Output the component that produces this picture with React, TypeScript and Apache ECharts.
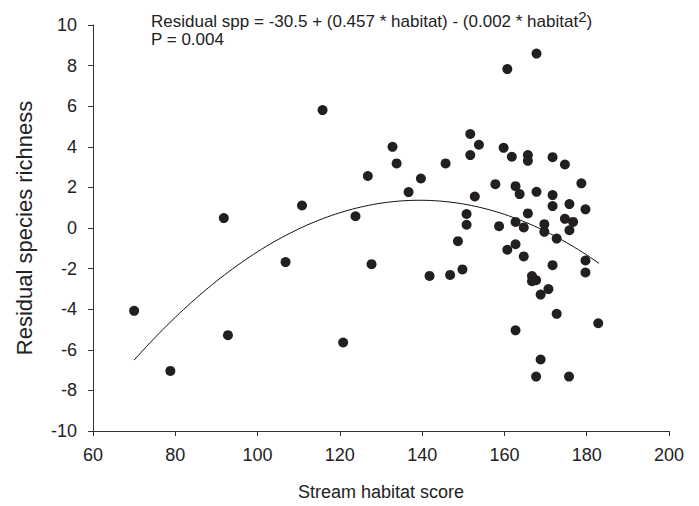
import React, { useEffect, useRef } from "react";
import * as echarts from "echarts";

const habitatScores = [
  70, 78.8, 91.8, 92.8, 106.8, 110.8, 115.8, 120.8, 123.8, 126.8, 127.7, 132.8, 133.8, 136.7, 139.7, 141.8, 145.7, 146.8, 148.7,
  149.8, 150.8, 150.8, 151.7, 151.7, 152.8, 153.8, 157.8, 158.7, 159.8, 160.7, 160.7, 161.8, 162.7, 162.7, 162.7, 162.7,
  163.7, 164.7, 164.7, 165.7, 165.7, 165.7, 166.7, 166.7, 167.7, 167.8, 167.8, 167.7, 168.8, 168.8, 169.7, 169.7, 170.7,
  171.7, 171.7, 171.7, 171.7, 172.7, 172.7, 174.7, 174.7, 175.8, 175.8, 175.7, 176.7, 178.7, 179.7, 179.7, 179.7, 182.8,
];
const residualRichness = [
  -4.08, -7.04, 0.49, -5.28, -1.68, 1.11, 5.81, -5.64, 0.58, 2.56, -1.78, 4.0, 3.18, 1.77, 2.44, -2.36, 3.18, -2.31, -0.65,
  -2.04, 0.69, 0.16, 4.63, 3.59, 1.55, 4.1, 2.16, 0.09, 3.95, 7.83, -1.07, 3.51, 2.06, 0.3, -0.8, -5.04,
  1.67, 0.03, -1.4, 3.59, 3.31, 0.72, -2.37, -2.62, -2.57, 8.59, 1.78, -7.32, -3.28, -6.48, 0.19, -0.19, -3.01,
  3.49, 1.62, 1.08, -1.83, -0.52, -4.23, 3.13, 0.45, 1.18, -0.11, -7.32, 0.3, 2.2, 0.92, -1.6, -2.19, -4.69,
];

// fitted quadratic (as drawn)
const fitCoef = [-30.4, 0.4558, -0.001635];
const fitRange = [70, 183];

const xTicks = { min: 60, max: 200, interval: 20 };
const yTicks = { min: -10, max: 10, interval: 2 };

export default function App() {
  const ref = useRef<HTMLDivElement>(null);
  useEffect(() => {
    if (!ref.current) return;
    const chart = echarts.init(ref.current, null, { renderer: "svg" });
    const points = habitatScores.map((x, i) => [x, residualRichness[i]]);
    const fit: number[][] = [];
    for (let x = fitRange[0]; x <= fitRange[1] + 1e-9; x += 1) {
      fit.push([x, fitCoef[0] + fitCoef[1] * x + fitCoef[2] * x * x]);
    }
    const font = "'Liberation Sans', Arial, sans-serif";
    chart.setOption({
      animation: false,
      backgroundColor: "#fff",
      textStyle: { fontFamily: font },
      grid: { left: 93, right: 30, top: 25, bottom: 75 },
      xAxis: {
        type: "value",
        ...xTicks,
        name: "Stream habitat score",
        nameLocation: "middle",
        nameGap: 52,
        nameTextStyle: { fontSize: 18, color: "#222", fontFamily: font },
        axisLine: { show: true, onZero: false, lineStyle: { color: "#333", width: 1 } },
        axisTick: { show: true, inside: false, length: 5, lineStyle: { color: "#333" } },
        axisLabel: { fontSize: 18, color: "#222", margin: 15, fontFamily: font },
        splitLine: { show: false },
      },
      yAxis: {
        type: "value",
        ...yTicks,
        name: "Residual species richness",
        nameLocation: "middle",
        nameGap: 58,
        nameTextStyle: { fontSize: 22, color: "#222", fontFamily: font },
        axisLine: { show: true, onZero: false, lineStyle: { color: "#333", width: 1 } },
        axisTick: { show: true, inside: false, length: 5, lineStyle: { color: "#333" } },
        axisLabel: { fontSize: 18, color: "#222", margin: 16, fontFamily: font },
        splitLine: { show: false },
      },
      graphic: [
        {
          type: "text",
          left: 151,
          top: 9,
          style: {
            text: "{a|Residual spp = -30.5 + (0.457 * habitat) - (0.002 * habitat}{s|2}{a|)}",
            rich: {
              a: { fontSize: 17, lineHeight: 17, fill: "#222", fontFamily: font, verticalAlign: "bottom" },
              s: { fontSize: 15, lineHeight: 15, fill: "#222", fontFamily: font, padding: [0, 0, 6, 0], verticalAlign: "bottom" },
            },
          },
        },
        {
          type: "text",
          left: 151,
          top: 31,
          style: { text: "P = 0.004", fontSize: 17, lineHeight: 17, fill: "#222", fontFamily: font },
        },
      ],
      series: [
        {
          type: "line",
          data: fit,
          showSymbol: false,
          smooth: false,
          lineStyle: { color: "#111", width: 1 },
          z: 2,
        },
        {
          type: "scatter",
          data: points,
          symbol: "circle",
          symbolSize: 10,
          itemStyle: { color: "#231f20", opacity: 1 },
          z: 3,
        },
      ],
    });
    return () => chart.dispose();
  }, []);
  return <div ref={ref} style={{ width: 699, height: 506, position: "absolute", left: 0, top: 0 }} />;
}
